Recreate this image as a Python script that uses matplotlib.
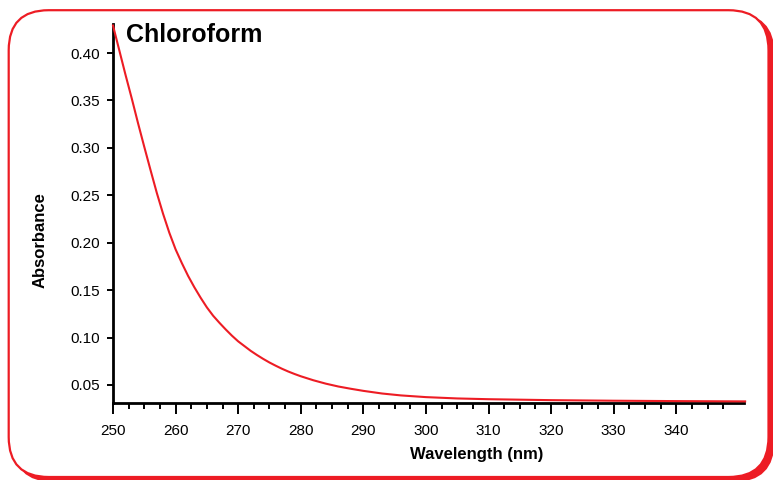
import numpy as np
from matplotlib import pyplot as plt
from matplotlib.patches import FancyBboxPatch
from matplotlib.ticker import FixedLocator, FormatStrFormatter

plt.rcParams['font.family'] = ['Liberation Sans', 'DejaVu Sans']

# values
wavelength = [250, 251, 252, 253, 254, 255, 256, 257, 258, 259,
              260, 261, 262, 263, 264, 265, 266, 267, 268, 269,
              270, 271, 272, 273, 274, 275, 276, 277, 278, 279,
              280, 282, 284, 286, 288, 290, 293, 296, 300, 305,
              310, 320, 330, 340, 351]
absorbance = [0.429, 0.403, 0.377, 0.352, 0.326, 0.301, 0.2765, 0.2525, 0.2305, 0.2105,
              0.1930, 0.1785, 0.1650, 0.1530, 0.1420, 0.1318, 0.1230, 0.1156, 0.1086, 0.1020,
              0.0960, 0.0910, 0.0860, 0.0816, 0.0775, 0.0737, 0.0703, 0.0671, 0.0642, 0.0616,
              0.0592, 0.0550, 0.0514, 0.0484, 0.0460, 0.0438, 0.0410, 0.0390, 0.0372, 0.0358,
              0.0350, 0.0340, 0.0334, 0.0330, 0.0327]

x_major = [250, 260, 270, 280, 290, 300, 310, 320, 330, 340]
y_major = [0.05, 0.10, 0.15, 0.20, 0.25, 0.30, 0.35, 0.40]

title = 'Chloroform'
xlabel = 'Wavelength (nm)'
ylabel = 'Absorbance'

red = '#ED1C24'
W, H = 773, 480

fig = plt.figure(figsize=(W / 100, H / 100), dpi=100)

# frame drawn in pixel coordinates
bg = fig.add_axes([0, 0, 1, 1], zorder=0)
bg.set_xlim(0, W)
bg.set_ylim(H, 0)
bg.axis('off')
box_x0, box_y0, box_x1, box_y1 = 8.7, 10.2, 768.5, 477.0
shadow = FancyBboxPatch((box_x0 + 5, box_y0 + 4), box_x1 - box_x0, box_y1 - box_y0,
                        boxstyle='round,pad=0,rounding_size=40',
                        facecolor=red, edgecolor=red, linewidth=1.6)
frame = FancyBboxPatch((box_x0, box_y0), box_x1 - box_x0, box_y1 - box_y0,
                       boxstyle='round,pad=0,rounding_size=40',
                       facecolor='white', edgecolor=red, linewidth=1.6)
bg.add_patch(shadow)
bg.add_patch(frame)

ax = fig.add_axes([113 / W, 1 - 403 / H, (744.5 - 113) / W, (403 - 24) / H], zorder=1)
ax.patch.set_alpha(0)
ax.plot(wavelength, absorbance, color=red, lw=1.5, clip_on=False, zorder=3)

ax.set_xlim(250, 350.9)
ax.set_ylim(0.031, 0.4306)
for side in ['top', 'right']:
    ax.spines[side].set_visible(False)
for side in ['left', 'bottom']:
    ax.spines[side].set_linewidth(2)

ax.xaxis.set_major_locator(FixedLocator(x_major))
ax.xaxis.set_minor_locator(FixedLocator(np.arange(250, 349, 2.5)))
ax.yaxis.set_major_locator(FixedLocator(y_major))
ax.yaxis.set_major_formatter(FormatStrFormatter('%.2f'))

ax.tick_params(axis='x', which='major', length=8, width=1.4, labelsize=11, pad=7)
ax.tick_params(axis='x', which='minor', length=4.5, width=1.4)
ax.tick_params(axis='y', which='major', length=4.5, width=1.4, labelsize=11, pad=5)

fig.text(477 / W, 1 - 458.7 / H, xlabel, fontsize=12, fontweight='bold',
         ha='center', va='baseline')
fig.text(40 / W, 1 - 240 / H, ylabel, fontsize=12, fontweight='bold',
         ha='center', va='center', rotation=90)

fig.text(126 / W, 1 - 42.5 / H, title, fontsize=18, fontweight='bold',
         ha='left', va='baseline')

fig.savefig('out.png', dpi=100)
